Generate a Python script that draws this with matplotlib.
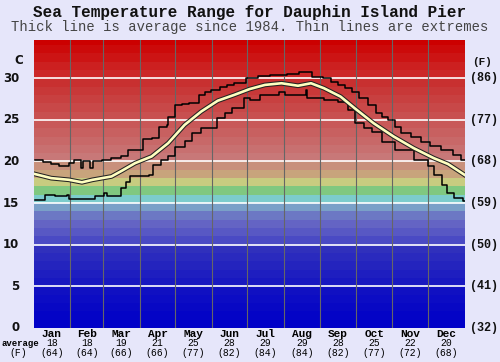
import matplotlib
matplotlib.use("Agg")
import matplotlib.pyplot as plt
import matplotlib.patheffects as pe
import matplotlib.transforms as mtransforms

# ---------------- data ----------------
months = ["Jan", "Feb", "Mar", "Apr", "May", "Jun", "Jul", "Aug", "Sep", "Oct", "Nov", "Dec"]
month_days = [31, 28, 31, 30, 31, 30, 31, 31, 30, 31, 30, 31]
avg_c = [18, 18, 19, 21, 25, 28, 29, 29, 28, 25, 22, 20]
avg_f = [64, 64, 66, 66, 77, 82, 84, 84, 82, 77, 72, 68]

c_ticks = [0, 5, 10, 15, 20, 25, 30]
f_labels = ["(32)", "(41)", "(50)", "(59)", "(68)", "(77)", "(86)"]

max_days = [1, 8, 15, 22, 30, 34, 40, 42, 48, 50, 58, 66, 74, 80, 93, 100, 106, 113, 114, 120,
            126, 132, 140, 145, 150, 158, 164, 170, 180, 190, 200, 215, 225, 236, 245, 252, 258,
            264, 270, 276, 283, 290, 295, 300, 306, 311, 320, 328, 336, 345, 355, 362, 365]
max_vals = [20.2, 19.9, 19.7, 19.5, 19.8, 20.2, 19.2, 20.1, 19.2, 20.1, 20.2, 20.4, 20.6, 21.4,
            22.7, 22.8, 24.2, 24.4, 25.4, 26.8, 26.9, 27.0, 28.0, 28.3, 28.6, 29.0, 29.2, 29.4,
            30.0, 30.3, 30.4, 30.5, 30.7, 30.2, 30.0, 29.6, 29.2, 28.8, 28.4, 27.6, 26.8, 25.8,
            25.4, 25.0, 24.2, 23.4, 22.9, 22.4, 21.9, 21.4, 20.8, 20.2, 20.2]

avg_days = [1, 15, 30, 41, 50, 58, 66, 75, 86, 100, 114, 128, 142, 156, 170, 183, 196, 210,
            224, 235, 246, 260, 272, 288, 305, 322, 339, 351, 365]
avg_vals = [18.5, 18.0, 17.8, 17.5, 17.8, 18.0, 18.2, 18.9, 19.8, 20.6, 22.2, 24.4, 26.0, 27.3,
            28.0, 28.7, 29.2, 29.4, 29.1, 29.4, 28.8, 27.8, 26.4, 24.6, 23.0, 21.6, 20.4, 19.7,
            18.4]

min_days = [1, 6, 10, 18, 28, 30, 44, 52, 60, 62, 69, 74, 78, 82, 98, 101, 108, 114, 120, 128,
            134, 142, 154, 155, 162, 168, 178, 183, 192, 208, 213, 230, 231, 232, 246, 258, 266,
            272, 280, 287, 295, 306, 322, 334, 339, 346, 350, 356, 364, 365]
min_vals = [15.4, 15.4, 16.0, 15.8, 16.0, 15.5, 15.5, 15.8, 16.2, 15.8, 15.8, 16.8, 17.5, 18.2,
            18.4, 19.6, 20.2, 20.6, 21.7, 22.5, 23.4, 24.0, 24.0, 25.2, 25.8, 26.4, 27.6, 27.4,
            28.0, 28.4, 28.0, 28.0, 28.6, 27.6, 27.4, 27.2, 26.2, 24.6, 24.0, 23.6, 22.4, 21.4,
            20.2, 19.4, 18.4, 17.2, 16.2, 15.6, 15.2, 15.2]

band_colors = ["#0000c8", "#0404c6", "#0808c4", "#0c0cc4", "#1010c2", "#1818c0", "#1e1ec0",
               "#2424be", "#2a2abe", "#3030bc", "#4a4ac4", "#5858c4", "#6464c4", "#6c78c4",
               "#7aa0c8", "#7ccccc", "#80c880", "#c8cc80", "#c8a47c", "#c8907c", "#c87878",
               "#c87070", "#c86868", "#c86060", "#c85858", "#c85050", "#c84848", "#c84040",
               "#c83838", "#c83030", "#cc2828", "#cc2020", "#cc1414", "#cc0a0a", "#cc0000"]

# ---------------- figure ----------------
bg = "#e6e6fa"
fig = plt.figure(figsize=(5.0, 3.62), dpi=100, facecolor=bg)
ax = fig.add_axes([0.067, 0.094, 0.862, 0.7956])
ax.set_xlim(0, 365)
ax.set_ylim(0, 34.6)

for i, col in enumerate(band_colors):
    ax.axhspan(i, i + 1, color=col, lw=0, zorder=0)

for c in c_ticks[1:]:
    ax.axhline(c, color="white", lw=1.2, zorder=1)

bounds = []
acc = 0
for d in month_days[:-1]:
    acc += d
    bounds.append(acc)
for b in bounds:
    ax.axvline(b, color="#666666", lw=0.8, zorder=1)

ax.plot(max_days, max_vals, drawstyle="steps-post", color="black", lw=1.1, zorder=3)
ax.plot(min_days, min_vals, drawstyle="steps-post", color="black", lw=1.1, zorder=3)
ax.plot(avg_days, avg_vals, color="#ffffc0", lw=1.9, zorder=4,
        path_effects=[pe.Stroke(linewidth=3.4, foreground="#222222"), pe.Normal()])

for s in ax.spines.values():
    s.set_visible(False)
ax.set_xticks([])
ax.set_yticks([])

# left (C) labels
for c in c_ticks:
    ax.text(-0.033, c, str(c), transform=mtransforms.blended_transform_factory(ax.transAxes, ax.transData),
            ha="right", va="center", fontsize=8.5, fontweight="bold", family="DejaVu Sans", color="#111111")
fig.text(0.046, 1 - 61 / 362, "C", ha="right", va="center", fontsize=8.5, fontweight="bold",
         family="DejaVu Sans", color="#111111")

# right (F) labels
for c, lab in zip(c_ticks, f_labels):
    ax.text(1.012, c, lab, transform=mtransforms.blended_transform_factory(ax.transAxes, ax.transData),
            ha="left", va="center", fontsize=8.5, fontweight="bold", family="Liberation Mono", color="#111111")
fig.text(0.965, 1 - 62 / 362, "(F)", ha="center", va="center", fontsize=8, fontweight="bold",
         family="Liberation Mono", color="#111111")

# bottom monthly labels
start = 0
trans = mtransforms.blended_transform_factory(ax.transData, fig.transFigure)
for m, d, c, f in zip(months, month_days, avg_c, avg_f):
    mid = start + d / 2
    start += d
    ax.text(mid, 1 - 334 / 362, m, transform=trans, ha="center", va="center", fontsize=8,
            fontweight="bold", family="Liberation Mono")
    ax.text(mid, 1 - 343.5 / 362, str(c), transform=trans, ha="center", va="center", fontsize=7,
            family="Liberation Mono")
    ax.text(mid, 1 - 352.5 / 362, "(%d)" % f, transform=trans, ha="center", va="center", fontsize=7,
            family="Liberation Mono")
fig.text(0.004, 1 - 343.5 / 362, "average", ha="left", va="center", fontsize=6.5,
         fontweight="bold", family="Liberation Mono")
fig.text(0.036, 1 - 352.5 / 362, "(F)", ha="center", va="center", fontsize=7,
         family="Liberation Mono")

# titles
fig.text(0.5, 1 - 13 / 362, "Sea Temperature Range for Dauphin Island Pier", ha="center", va="center",
         fontsize=11.5, fontweight="bold", family="Liberation Mono", color="#111111")
fig.text(0.5, 1 - 27 / 362, "Thick line is average since 1984. Thin lines are extremes", ha="center",
         va="center", fontsize=10, family="Liberation Mono", color="#444444")

fig.savefig("out.png", dpi=100, facecolor=bg)
